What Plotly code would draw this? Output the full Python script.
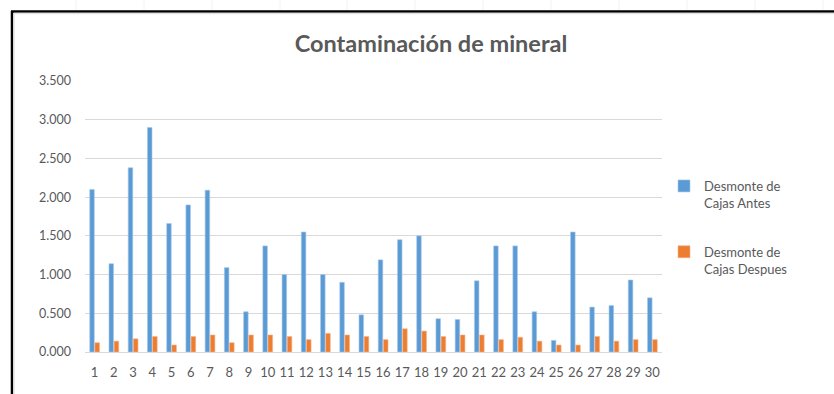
import plotly.graph_objects as go

# Sample numbers 1..30
muestras = [str(i) for i in range(1, 31)]

# Desmonte de cajas before and after
antes = [2.10, 1.14, 2.38, 2.90, 1.66, 1.90, 2.09, 1.09, 0.52, 1.37,
         1.00, 1.55, 1.00, 0.90, 0.48, 1.19, 1.45, 1.50, 0.43, 0.42,
         0.92, 1.37, 1.37, 0.52, 0.15, 1.55, 0.58, 0.60, 0.93, 0.70]
despues = [0.12, 0.14, 0.17, 0.20, 0.09, 0.20, 0.22, 0.12, 0.22, 0.22,
           0.20, 0.16, 0.24, 0.22, 0.20, 0.16, 0.30, 0.27, 0.20, 0.22,
           0.22, 0.16, 0.19, 0.14, 0.09, 0.09, 0.20, 0.14, 0.16, 0.16]

y_ticks = [0, 0.5, 1.0, 1.5, 2.0, 2.5, 3.0, 3.5]
y_tick_text = ["0.000", "0.500", "1.000", "1.500", "2.000", "2.500", "3.000", "3.500"]

FONT = "Lato, Open Sans, sans-serif"
GREY = "#595959"

fig = go.Figure()
fig.add_trace(go.Bar(
    x=muestras, y=antes, name="Desmonte de<br>Cajas Antes", legendgroup="antes",
    marker=dict(color="#5B9BD5", line=dict(color="#a9c9ea", width=0.6)),
))
fig.add_trace(go.Bar(
    x=muestras, y=despues, name="Desmonte de<br>Cajas Despues", legendgroup="despues",
    marker=dict(color="#ED7D31", line=dict(color="#f5b48a", width=0.6)),
))

fig.update_layout(
    width=834, height=394,
    margin=dict(l=85, r=172, t=81, b=42),
    paper_bgcolor="white", plot_bgcolor="white",
    barmode="group", bargap=0.46, bargroupgap=0.12,
    font=dict(family=FONT, color=GREY, size=12),
    title=dict(text="<b>Contaminación de mineral</b>", x=431 / 834, xanchor="center",
               y=1 - 44 / 394, yanchor="middle",
               font=dict(family=FONT, size=23.5, color=GREY)),
    legend=dict(x=1 + 2 / 577, y=(352 - 171) / 271, xanchor="left", yanchor="top",
                font=dict(size=13, color=GREY), tracegroupgap=29, valign="top",
                itemwidth=30, bgcolor="rgba(0,0,0,0)"),
    showlegend=True,
)
fig.update_xaxes(showgrid=False, showline=False, ticks="", tickfont=dict(size=13, color=GREY),
                 ticklabelstandoff=11)
fig.update_yaxes(range=[0, 3.5], tickvals=y_ticks, ticktext=y_tick_text,
                 showgrid=True, gridcolor="#d9d9d9", gridwidth=1,
                 zeroline=True, zerolinecolor="#d9d9d9", zerolinewidth=1,
                 showline=False, ticks="", tickfont=dict(size=12.5, color=GREY),
                 ticklabelstandoff=13)

# Window frame: black edge on top and left, light chart border inside it
fig.add_shape(type="line", xref="paper", yref="paper", x0=-74 / 577, x1=1.4,
              y0=1 + (81 - 11.5) / 271, y1=1 + (81 - 11.5) / 271,
              line=dict(color="black", width=2.5))
fig.add_shape(type="line", xref="paper", yref="paper", x0=-73 / 577, x1=-73 / 577,
              y0=-0.3, y1=1 + (81 - 11) / 271,
              line=dict(color="black", width=2.5))
fig.add_shape(type="line", xref="paper", yref="paper", x0=-71 / 577, x1=1.4,
              y0=1 + (81 - 13.5) / 271, y1=1 + (81 - 13.5) / 271,
              line=dict(color="#e3e3e3", width=1.5))
fig.add_shape(type="line", xref="paper", yref="paper", x0=-71 / 577, x1=-71 / 577,
              y0=-0.3, y1=1 + (81 - 13.5) / 271,
              line=dict(color="#e3e3e3", width=1.5))
# faint sheet cell dividers above the frame
for cx in [76, 144, 212, 280, 347, 415, 483, 551, 619, 687, 755, 823]:
    xp = (cx - 85) / 577
    fig.add_shape(type="line", xref="paper", yref="paper", x0=xp, x1=xp,
                  y0=1 + 71 / 271, y1=1 + 81 / 271,
                  line=dict(color="#f2f2f2", width=1))

fig.write_html("out.html")
